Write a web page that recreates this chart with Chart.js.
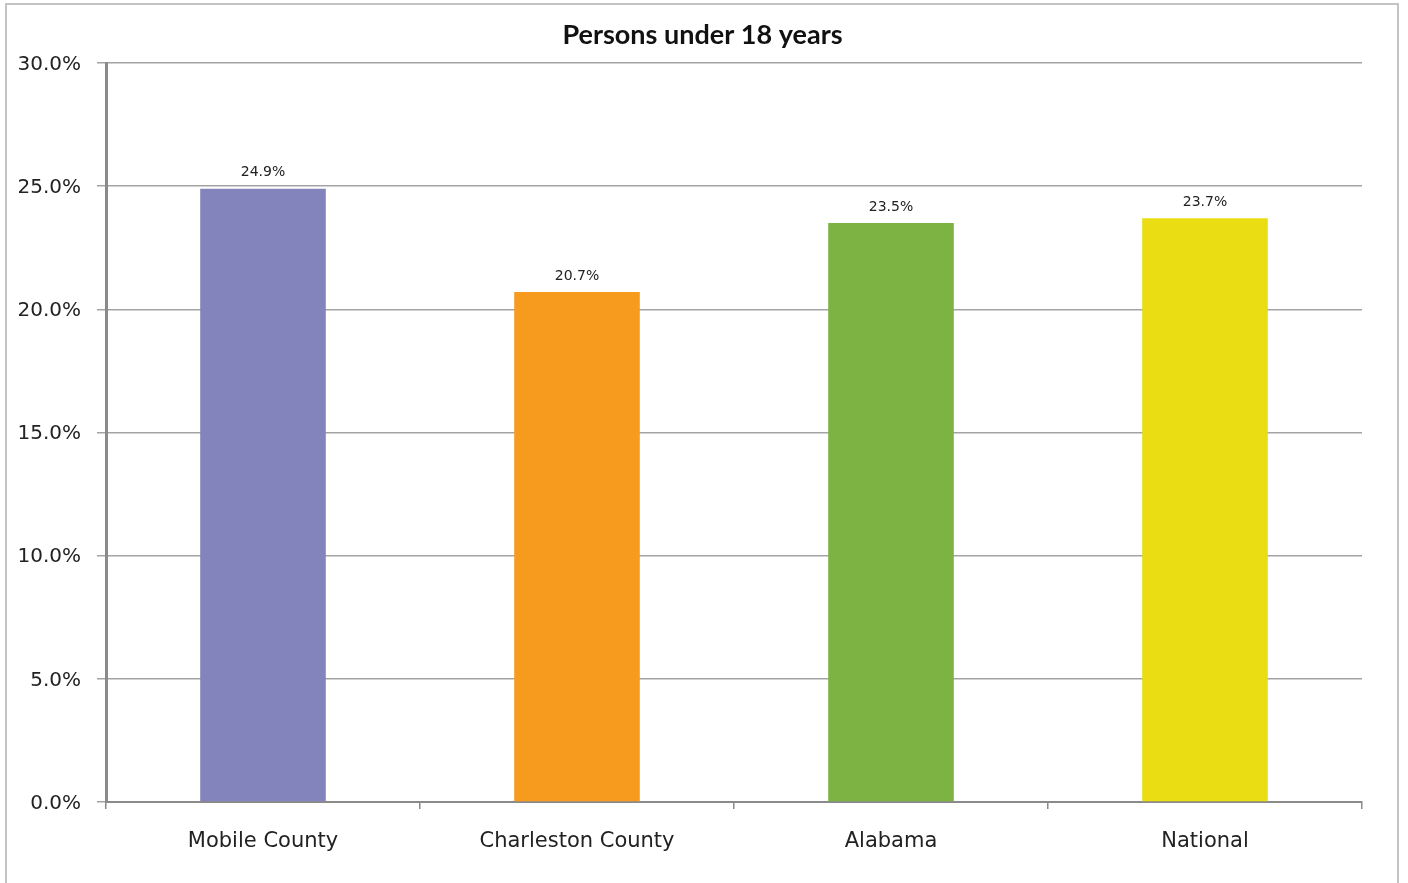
<!DOCTYPE html>
<html>
<head>
<meta charset="utf-8">
<script src="https://cdn.jsdelivr.net/npm/chart.js@4.4.1/dist/chart.umd.min.js"></script>
<style>
  html, body { margin: 0; padding: 0; background: #ffffff; overflow: hidden; }
  #wrap { position: absolute; left: 0; top: 0; width: 1408px; height: 883px; }
  #frame { position: absolute; left: 5px; top: 3px; width: 1394px; height: 900px; border: 2px solid #C4C4C4; pointer-events: none; box-sizing: border-box; }
  canvas { position: absolute; left: 0; top: 0; }
</style>
</head>
<body>
<div id="wrap">
  <canvas id="c" width="1408" height="883"></canvas>
  <div id="frame"></div>
</div>
<script>
const chartTitle = "Persons under 18 years";
const categories = ["Mobile County", "Charleston County", "Alabama", "National"];
const values = [24.9, 20.7, 23.5, 23.7];
const barColors = ["#8484BD", "#F79B1E", "#7CB342", "#EBDD13"];
const yMin = 0, yMax = 30, yStep = 5;

const valueLabels = {
  id: 'valueLabels',
  afterDatasetsDraw(chart) {
    const ctx = chart.ctx;
    const meta = chart.getDatasetMeta(0);
    ctx.save();
    ctx.font = '14px "DejaVu Sans"';
    ctx.fillStyle = '#222222';
    ctx.textAlign = 'center';
    ctx.textBaseline = 'middle';
    meta.data.forEach((bar, i) => {
      ctx.fillText(values[i].toFixed(1) + '%', bar.x, bar.y - 16);
    });
    ctx.restore();
  }
};

const centeredTitle = {
  id: 'centeredTitle',
  afterDraw(chart) {
    const ctx = chart.ctx;
    ctx.save();
    ctx.font = 'bold 27px Lato';
    ctx.fillStyle = '#111111';
    ctx.textAlign = 'center';
    ctx.textBaseline = 'middle';
    ctx.fillText(chartTitle, chart.width / 2 - 1.5, 35);
    ctx.restore();
  }
};

new Chart(document.getElementById('c'), {
  type: 'bar',
  data: {
    labels: categories,
    datasets: [{
      data: values,
      backgroundColor: barColors,
      borderWidth: 0,
      categoryPercentage: 0.4,
      barPercentage: 1.0
    }]
  },
  options: {
    responsive: false,
    animation: false,
    devicePixelRatio: 1,
    layout: { padding: { left: 0, right: 46, top: 63, bottom: 0 } },
    plugins: {
      legend: { display: false },
      tooltip: { enabled: false },
      title: { display: false }
    },
    scales: {
      y: {
        min: yMin, max: yMax,
        ticks: {
          stepSize: yStep,
          color: '#222222',
          font: { family: 'DejaVu Sans', size: 20 },
          padding: 16,
          labelOffset: 1.5,
          callback: (v) => v.toFixed(1) + '%'
        },
        grid: { color: '#A3A3A3', lineWidth: 1.5, tickLength: 9, drawTicks: true },
        border: { display: true, color: '#8A8A8A', width: 3 },
        afterFit: (s) => { s.width = 106; }
      },
      x: {
        ticks: {
          color: '#222222',
          font: { family: 'DejaVu Sans', size: 21 },
          padding: 20,
          maxRotation: 0
        },
        grid: { drawOnChartArea: false, drawTicks: true, tickLength: 7, color: '#8A8A8A', lineWidth: 1.5, offset: true },
        border: { display: true, color: '#8A8A8A', width: 2 },
        afterFit: (s) => { s.height = 81; }
      }
    }
  },
  plugins: [valueLabels, centeredTitle]
});
</script>
</body>
</html>
